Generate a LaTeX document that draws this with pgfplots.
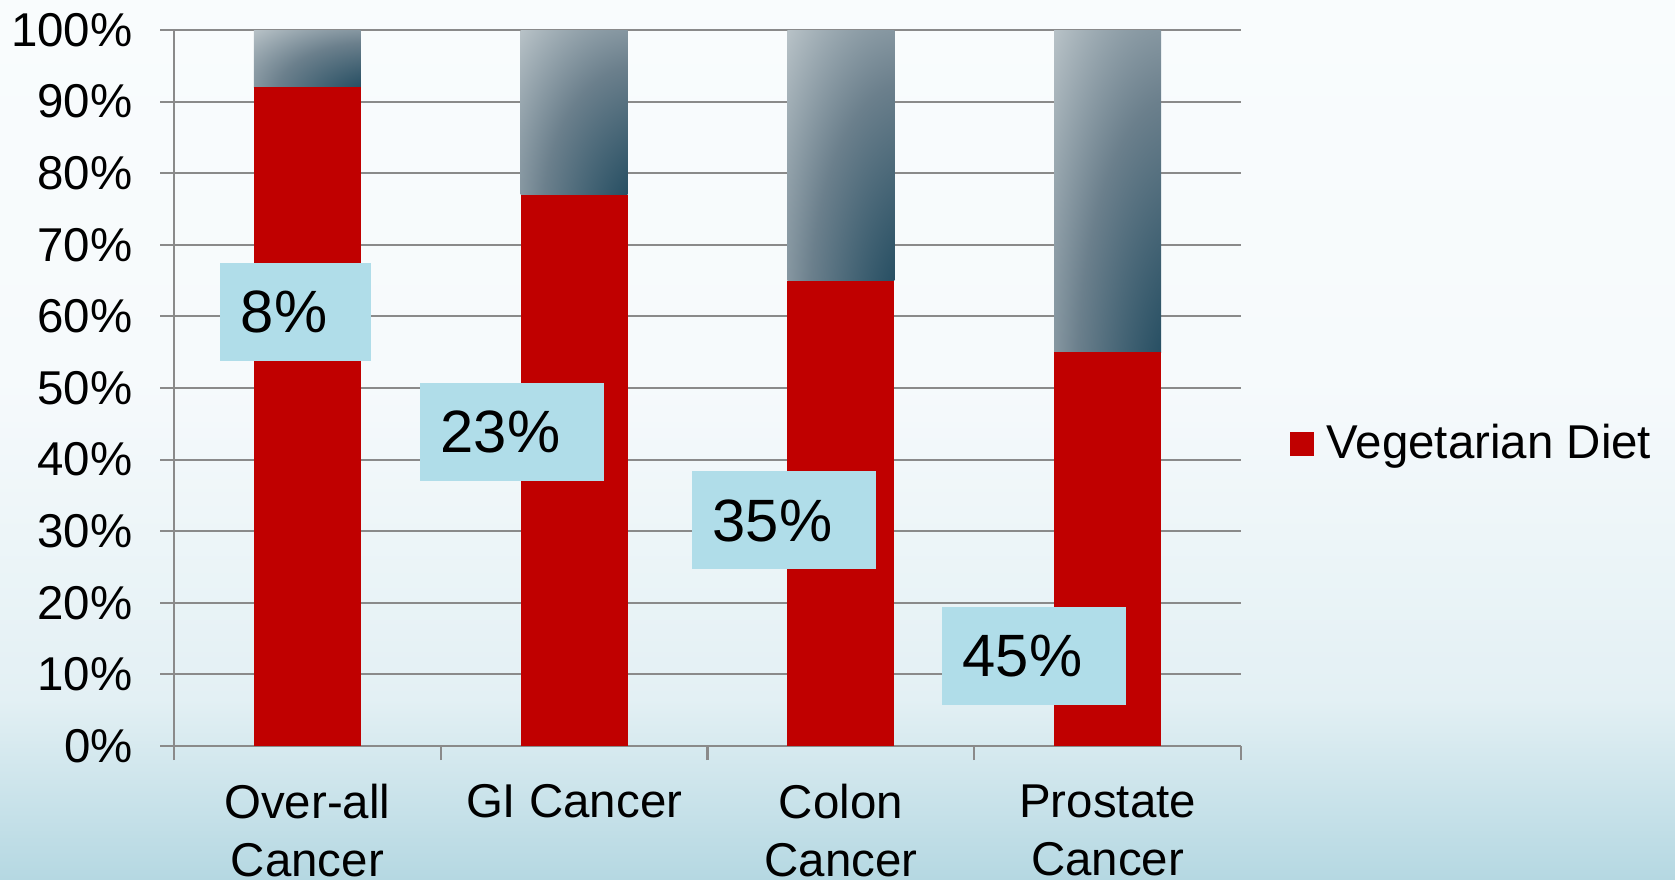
\documentclass[border=0pt]{standalone}
\usepackage{fontspec}
\setmainfont{Liberation Sans}
\usepackage{pgfplots}
\pgfplotsset{compat=1.18}

\definecolor{vegred}{HTML}{C00000}
\definecolor{boxblue}{HTML}{B0DDE9}
\definecolor{gridgray}{HTML}{8A8A8A}
\definecolor{bgA}{HTML}{B5D8E2}
\definecolor{bgB}{HTML}{E3F0F4}
\definecolor{bgC}{HTML}{F6FAFC}
\definecolor{bgD}{HTML}{F9FCFD}

% dark corner bottom right, light towards top left
\pgfdeclareradialshading{bartop}{\pgfpoint{45bp}{-45bp}}{%
  rgb(0bp)=(0.10,0.26,0.34);
  rgb(18bp)=(0.14,0.30,0.38);
  rgb(45bp)=(0.42,0.50,0.55);
  rgb(68bp)=(0.72,0.76,0.78);
  rgb(140bp)=(0.76,0.79,0.81)}

% start a new stack (zero base) at category #1
\makeatletter
\newcommand\newstack[1]{\pgfplots@stacked@isfirstplottrue
  \addplot[forget plot, draw=none, fill=none] coordinates {(#1,0)};}
\makeatother

\newcommand\lbl{\fontsize{13.5}{16.5}\selectfont}
\newcommand\boxlbl[1]{\kern2.1mm#1\kern4.4mm}
\tikzset{pct/.style={fill=boxblue, inner sep=0pt, minimum height=9.8mm,
    anchor=west, font=\fontsize{17}{20}\selectfont}}
\pgfplotsset{
  veg/.style={fill=vegred, draw=none},
  rest/.style={top color=gray, bottom color=black, shading=bartop, draw=none, forget plot},
}

\begin{document}
\begin{tikzpicture}
\useasboundingbox (0,0) rectangle (16.75cm,8.79cm);
\shade[bottom color=bgA, top color=bgB] (0,0) rectangle (16.75cm,1.8cm);
\shade[bottom color=bgB, top color=bgC] (0,1.8cm) rectangle (16.75cm,5cm);
\shade[bottom color=bgC, top color=bgD] (0,5cm) rectangle (16.75cm,8.79cm);

\begin{axis}[
  at={(1.74cm,1.33cm)}, anchor=south west,
  scale only axis, width=10.67cm, height=7.16cm,
  xmin=-0.5, xmax=3.5, ymin=0, ymax=100,
  ybar stacked, bar width=1.07cm,
  axis x line*=bottom, axis y line*=left,
  axis line style={gridgray, line width=0.6pt, -},
  tick align=outside, major tick length=0.14cm,
  tick style={gridgray, line width=0.6pt},
  xtick={-0.5,0.5,1.5,2.5,3.5}, xticklabels={},
  extra x ticks={0,1,2,3},
  extra x tick labels={{Over-all\\Cancer},{GI Cancer},{Colon\\Cancer},{Prostate\\Cancer}},
  extra x tick style={major tick length=0pt,
    xticklabel style={align=center, font=\lbl, yshift=-2.6mm}},
  ytick={0,10,...,100},
  yticklabel={\pgfmathprintnumber{\tick}\%},
  yticklabel style={font=\lbl, xshift=-1.5mm},
  /pgf/number format/assume math mode=true,
  ymajorgrids, grid style={gridgray, line width=0.6pt},
  legend style={at={(1.045,0.422)}, anchor=west, draw=none, fill=none,
    font=\lbl, inner sep=0pt},
  legend image code/.code={\fill[vegred] (0cm,-0.12cm) rectangle (0.24cm,0.12cm);},
  after end axis/.code={
    \node[pct] at (axis cs:-0.331,60.6) {\boxlbl{8\%}};
    \node[pct] at (axis cs:0.418,43.9) {\boxlbl{23\%}};
    \node[pct] at (axis cs:1.438,31.5) {\boxlbl{35\%}};
    \node[pct] at (axis cs:2.375,12.6) {\boxlbl{45\%}};
  },
]
% one stack per category, so each grey top gets its own shading
\addplot[veg] coordinates {(0,92)};
\addlegendentry{\hspace{0.6mm}Vegetarian Diet}
\addplot[rest] coordinates {(0,8)};
\newstack{1}
\addplot[veg, forget plot] coordinates {(1,77)};
\addplot[rest] coordinates {(1,23)};
\newstack{2}
\addplot[veg, forget plot] coordinates {(2,65)};
\addplot[rest] coordinates {(2,35)};
\newstack{3}
\addplot[veg, forget plot] coordinates {(3,55)};
\addplot[rest] coordinates {(3,45)};
\end{axis}
\end{tikzpicture}
\end{document}
